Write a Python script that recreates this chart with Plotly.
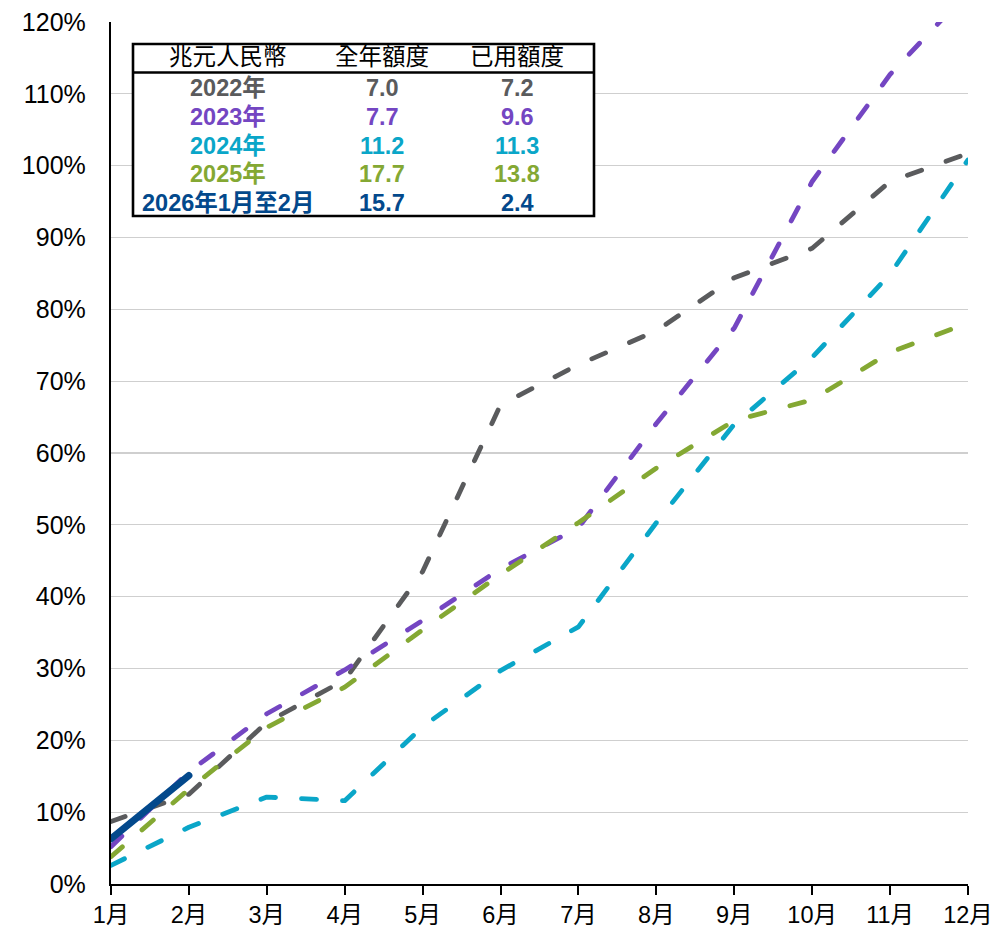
import plotly.graph_objects as go

# ---- data ----
months = ["1月", "2月", "3月", "4月", "5月", "6月", "7月", "8月", "9月", "10月", "11月", "12月"]
month_pos = list(range(1, 13))

y2022 = [8.7, 12.5, 22.5, 28.4, 43.5, 66.7, 72.3, 77.0, 84.4, 88.5, 97.8, 101.7]
y2023 = [5.2, 15.6, 23.7, 29.8, 36.7, 43.9, 49.6, 64.1, 77.4, 97.8, 112.7, 124.2]
y2024 = [2.6, 7.9, 12.1, 11.6, 21.9, 29.7, 35.8, 50.3, 64.0, 73.3, 84.9, 100.8]
y2025 = [3.8, 13.2, 21.8, 27.4, 35.4, 43.1, 50.3, 57.9, 64.5, 67.4, 74.0, 78.1]
y2026 = [6.3, 15.1]

series_names = ["2022年", "2023年", "2024年", "2025年", "2026年1月至2月"]
series_colors = ["#5a5b5d", "#7446c2", "#0aa6c8", "#84a833", "#03498c"]

# table contents
table_header = ["兆元人民幣", "全年額度", "已用額度"]
table_rows = ["2022年", "2023年", "2024年", "2025年", "2026年1月至2月"]
annual_quota = ["7.0", "7.7", "11.2", "17.7", "15.7"]
used_quota = ["7.2", "9.6", "11.3", "13.8", "2.4"]

FONT = "Arial, 'Liberation Sans', 'Noto Sans CJK TC', sans-serif"

fig = go.Figure()
all_series = [y2022, y2023, y2024, y2025]
for name, ys, col in zip(series_names[:4], all_series, series_colors[:4]):
    fig.add_trace(go.Scatter(
        x=month_pos, y=ys, mode="lines", name=name,
        line=dict(color=col, width=4.8, dash="15px,26px"),
        hoverinfo="skip",
    ))
fig.add_trace(go.Scatter(
    x=month_pos[:len(y2026)], y=y2026, mode="lines", name=series_names[4],
    line=dict(color=series_colors[4], width=7),
    hoverinfo="skip",
))

# plot area in pixels
L, R, T, B = 111, 968, 22, 884
W, H = 998, 930


def px_x(p):
    return (p - L) / (R - L)


def px_y(p):
    return (B - p) / (B - T)


# table box
box_l, box_r, box_t, box_b, head_b = 133, 594, 44, 216, 72.5
fig.add_shape(type="rect", xref="paper", yref="paper",
              x0=px_x(box_l), x1=px_x(box_r), y0=px_y(box_b), y1=px_y(box_t),
              line=dict(color="black", width=2.6), fillcolor="white", layer="above")
fig.add_shape(type="line", xref="paper", yref="paper",
              x0=px_x(box_l), x1=px_x(box_r), y0=px_y(head_b), y1=px_y(head_b),
              line=dict(color="black", width=2.6), layer="above")

col_x = [228, 382, 517]
head_y = 57
row_y = [88, 117, 146, 174.5, 203]

for cx, txt in zip(col_x, table_header):
    fig.add_annotation(xref="paper", yref="paper", x=px_x(cx), y=px_y(head_y),
                       text=txt, showarrow=False, xanchor="center", yanchor="middle",
                       font=dict(family=FONT, size=23.5, color="black"))

for i in range(len(table_rows)):
    col = series_colors[i]
    for cx, txt in zip(col_x, [table_rows[i], annual_quota[i], used_quota[i]]):
        fig.add_annotation(xref="paper", yref="paper", x=px_x(cx), y=px_y(row_y[i]),
                           text="<b>" + txt + "</b>", showarrow=False,
                           xanchor="center", yanchor="middle",
                           font=dict(family=FONT, size=23.5, color=col))

fig.update_layout(
    width=W, height=H,
    margin=dict(l=L, r=W - R, t=T, b=H - B, autoexpand=False),
    plot_bgcolor="white", paper_bgcolor="white",
    showlegend=False,
    font=dict(family=FONT, size=22, color="black"),
)
fig.update_xaxes(
    range=[1, 12], tickmode="array", tickvals=month_pos, ticktext=months,
    showgrid=False, zeroline=False, automargin=False,
    showline=True, linecolor="black", linewidth=2.2,
    ticks="outside", ticklen=9, tickwidth=2, tickcolor="black",
    tickfont=dict(family=FONT, size=23.5, color="black"),
)
fig.update_yaxes(
    range=[0, 120], tickmode="linear", tick0=0, dtick=10, ticksuffix="%",
    showgrid=True, gridcolor="#cfcfcf", gridwidth=1.3, automargin=False,
    zeroline=False, showline=True, linecolor="black", linewidth=2.2,
    ticks="", ticklabelstandoff=18,
    tickfont=dict(family=FONT, size=25, color="black"),
)

post = """
document.documentElement.style.margin = '0';
document.documentElement.style.padding = '0';
document.body.style.margin = '0';
document.body.style.padding = '0';
document.body.style.overflow = 'hidden';
var gd = document.getElementById('{plot_id}');
function roundCaps(){
  document.querySelectorAll('.scatterlayer path.js-line').forEach(function(p){
    p.style.strokeLinecap = 'round';
    p.style.strokeLinejoin = 'round';
  });
}
roundCaps();
setTimeout(roundCaps, 50);
setTimeout(roundCaps, 300);
if (gd && gd.on) { gd.on('plotly_afterplot', roundCaps); }
"""

fig.write_html("out.html", post_script=post,
               config={"displayModeBar": False, "staticPlot": True})
